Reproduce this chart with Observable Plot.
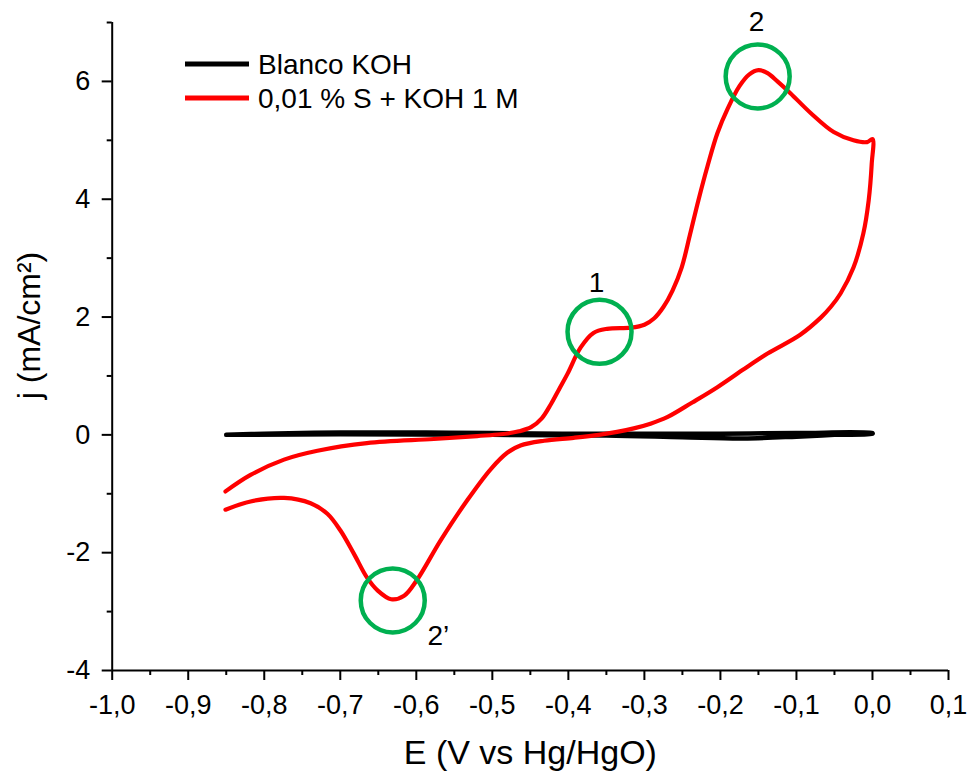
<!DOCTYPE html>
<html>
<head>
<meta charset="utf-8">
<script src="https://cdn.jsdelivr.net/npm/d3@7"></script>
<script src="https://cdn.jsdelivr.net/npm/@observablehq/plot@0.6"></script>
<style>
  html, body { margin: 0; padding: 0; background: #ffffff; }
  #chart { width: 967px; height: 771px; }
</style>
</head>
<body>
<div id="chart"></div>
<script>
// ---- Data ----
// Red: 0,01 % S + KOH 1 M (one continuous cyclic voltammogram trace)
const redE = [
  -0.851, -0.818, -0.774, -0.730, -0.665, -0.577, -0.520, -0.489, -0.465, -0.449,
  -0.435, -0.423, -0.412, -0.401, -0.384, -0.367, -0.349, -0.318, -0.300, -0.287,
  -0.275, -0.263, -0.251, -0.240, -0.229, -0.217, -0.204, -0.190, -0.175, -0.162,
  -0.150, -0.138, -0.125, -0.108, -0.081, -0.051, -0.025, -0.007, 0.000,
  -0.001, -0.005, -0.012, -0.025, -0.042, -0.055, -0.068, -0.095, -0.138, -0.171,
  -0.204, -0.237, -0.270, -0.292, -0.314, -0.336, -0.360, -0.393, -0.432, -0.463,
  -0.480, -0.502, -0.533, -0.568, -0.599, -0.616, -0.633, -0.651, -0.665, -0.682,
  -0.700, -0.717, -0.739, -0.774, -0.818, -0.851
];
const redJ = [
  -0.96, -0.68, -0.42, -0.27, -0.14, -0.07, -0.02, 0.01, 0.06, 0.13,
  0.28, 0.52, 0.78, 1.04, 1.48, 1.73, 1.80, 1.82, 1.87, 1.98,
  2.17, 2.45, 2.84, 3.40, 3.98, 4.56, 5.12, 5.55, 5.92, 6.12,
  6.19, 6.14, 6.00, 5.80, 5.46, 5.14, 5.00, 4.97, 5.02,
  4.60, 3.98, 3.42, 2.84, 2.40, 2.17, 1.99, 1.70, 1.38, 1.10,
  0.81, 0.55, 0.30, 0.19, 0.11, 0.05, 0.00, -0.05, -0.10, -0.18,
  -0.30, -0.58, -1.11, -1.79, -2.46, -2.73, -2.79, -2.64, -2.42, -2.02,
  -1.62, -1.34, -1.16, -1.07, -1.13, -1.27
];
// Black: Blanco KOH
const blackE = [-0.850, -0.800, -0.700, -0.600, -0.500, -0.400, -0.300, -0.200, -0.100, 0.000,
                0.000, -0.050, -0.100, -0.170, -0.250, -0.350, -0.500, -0.700, -0.850];
const blackJ = [0.00, 0.02, 0.04, 0.04, 0.03, 0.02, 0.02, 0.02, 0.03, 0.03,
                0.02, 0.00, -0.03, -0.06, -0.04, -0.01, 0.00, 0.01, 0.00];

const legendNames = ["Blanco KOH", "0,01 % S + KOH 1 M"];
const seriesColors = ["#000000", "#ff0000"];

// Highlight circles and peak labels
const circleE = [-0.151, -0.359, -0.631];
const circleJ = [6.085, 1.75, -2.81];
const peakLabels = ["2", "1", "2\u2019"];
const peakLabelE = [-0.1526, -0.363, -0.571];
const peakLabelJ = [7.0, 2.58, -3.41];

// Axis ticks
const xTickValues = [-1.0, -0.9, -0.8, -0.7, -0.6, -0.5, -0.4, -0.3, -0.2, -0.1, 0.0, 0.1];
const xMinorValues = [-0.95, -0.85, -0.75, -0.65, -0.55, -0.45, -0.35, -0.25, -0.15, -0.05, 0.05];
const yTickValues = [-4, -2, 0, 2, 4, 6];
const yMinorValues = [-3, -1, 1, 3, 5, 7];

const xLabel = "E (V vs Hg/HgO)";
const yLabel = "j (mA/cm\u00B2)";

// ---- Tables built from the arrays ----
const red = redE.map((e, i) => ({E: e, j: redJ[i]}));
const black = blackE.map((e, i) => ({E: e, j: blackJ[i]}));
const circles = circleE.map((e, i) => ({E: e, j: circleJ[i]}));
const peaks = peakLabels.map((t, i) => ({t, E: peakLabelE[i], j: peakLabelJ[i]}));

const fmtX = d => d.toFixed(1).replace(".", ",");
const fmtY = d => String(d);
const FONT = "'Liberation Sans', Arial, Helvetica, sans-serif";

function legendMark() {
  return () => {
    const g = d3.create("svg:g")
      .attr("font-family", FONT).attr("font-size", 28)
      .attr("fill", "black").attr("text-anchor", "start");
    legendNames.forEach((name, i) => {
      const y = 64 + i * 34;
      g.append("line").attr("x1", 185).attr("x2", 249).attr("y1", y).attr("y2", y)
        .attr("stroke", seriesColors[i]).attr("stroke-width", 5);
      g.append("text").attr("x", 258).attr("y", y + 10)
        .attr("text-anchor", "start").text(name);
    });
    return g.node();
  };
}

const chart = Plot.plot({
  width: 967,
  height: 771,
  marginLeft: 111.7,
  marginRight: 19,
  marginTop: 22,
  marginBottom: 101,
  x: {domain: [-1.0, 0.1]},
  y: {domain: [-4, 7]},
  style: {fontFamily: FONT, background: "#ffffff", color: "#000000", overflow: "visible"},
  marks: [
    Plot.axisX(xTickValues, {tickSize: 10, tickPadding: 14, tickFormat: fmtX, fontSize: 27, strokeWidth: 2, label: null}),
    Plot.axisX(xMinorValues, {tickSize: 5, text: null, strokeWidth: 2, label: null}),
    Plot.axisX([], {label: xLabel, labelAnchor: "center", labelArrow: "none", labelOffset: 93, fontSize: 34, tickSize: 0}),
    Plot.axisY(yTickValues, {tickSize: 10, tickPadding: 12, tickFormat: fmtY, fontSize: 27, strokeWidth: 2, label: null}),
    Plot.axisY(yMinorValues, {tickSize: 5, text: null, strokeWidth: 2, label: null}),
    Plot.text([yLabel], {frameAnchor: "left", rotate: -90, lineAnchor: "top", textAnchor: "middle",
                         dx: -95, dy: -21, fontSize: 32, fill: "black"}),
    Plot.ruleX([-1.0], {stroke: "black", strokeWidth: 2}),
    Plot.ruleY([-4], {stroke: "black", strokeWidth: 2}),
    Plot.line(black, {x: "E", y: "j", stroke: seriesColors[0], strokeWidth: 4.5, curve: "catmull-rom", strokeLinecap: "round"}),
    Plot.line(red, {x: "E", y: "j", stroke: seriesColors[1], strokeWidth: 4.2, curve: "catmull-rom"}),
    Plot.dot(circles, {x: "E", y: "j", r: 32, stroke: "#00b050", strokeWidth: 4.5, fill: "none"}),
    Plot.text(peaks, {x: "E", y: "j", text: "t", fontSize: 28, fill: "black", lineAnchor: "middle"}),
    legendMark()
  ]
});
document.getElementById("chart").appendChild(chart);
</script>
</body>
</html>
